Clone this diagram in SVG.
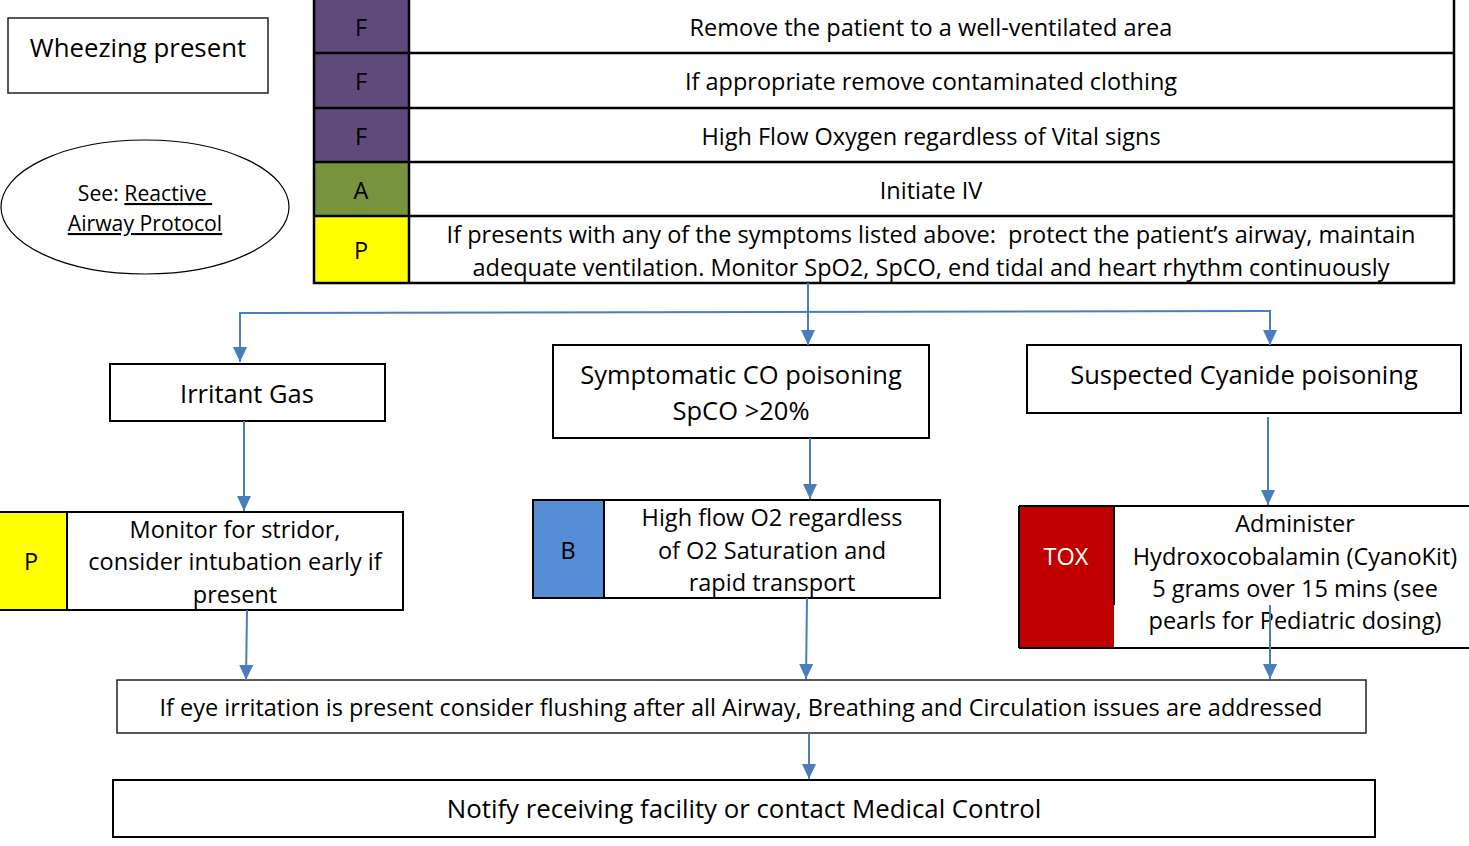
<svg xmlns="http://www.w3.org/2000/svg" width="1469" height="846" viewBox="0 0 1469 846">
<style>
text{font-family:"Open Sans","Noto Sans","Liberation Sans",sans-serif;fill:#000;text-anchor:middle;white-space:pre}
.box{fill:#fff;stroke:#000;stroke-width:2}
.thin{fill:#fff;stroke:#222;stroke-width:1.5}
.tb{stroke:#000;stroke-width:2.5;fill:none}
.t22{font-size:23.5px}
.t24{font-size:25.5px}
.t20{font-size:21.2px}
.t26{font-size:25.8px}
.con{stroke:#4A7EBB;stroke-width:2;fill:none;marker-end:url(#ah)}
.wt{fill:#fff}
</style>
<defs>
<marker id="ah" markerWidth="15" markerHeight="14" refX="15" refY="7" orient="auto" markerUnits="userSpaceOnUse" viewBox="0 0 15 14">
<path d="M0,0 L15,7 L0,14 Z" fill="#4A7EBB"/>
</marker>
</defs>
<rect width="1469" height="846" fill="#fff"/>

<g id="wheezing">
<rect class="thin" x="8" y="18" width="260" height="75"/>
<text class="t26" x="138" y="57">Wheezing present</text>
</g>

<g id="reactive">
<ellipse cx="145" cy="207" rx="144" ry="67" fill="#fff" stroke="#000" stroke-width="1.2"/>
<text class="t20" x="145" y="201">See: <tspan text-decoration="underline">Reactive </tspan></text>
<text class="t20" x="145" y="231" text-decoration="underline">Airway Protocol</text>
</g>

<g id="table">
<rect x="314" y="-2" width="95" height="163" fill="#604A7B"/>
<rect x="314" y="162" width="95" height="54" fill="#77933C"/>
<rect x="314" y="216" width="95" height="67" fill="#FFFF00"/>
<rect class="tb" x="314" y="-2" width="1140" height="285"/>
<line class="tb" x1="409" y1="-2" x2="409" y2="283"/>
<line class="tb" x1="314" y1="53" x2="1454" y2="53"/>
<line class="tb" x1="314" y1="108" x2="1454" y2="108"/>
<line class="tb" x1="314" y1="162" x2="1454" y2="162"/>
<line class="tb" x1="314" y1="216" x2="1454" y2="216"/>
<text class="t22" x="361" y="36">F</text>
<text class="t22" x="361" y="90">F</text>
<text class="t22" x="361" y="145">F</text>
<text class="t22" x="361" y="199">A</text>
<text class="t22" x="361" y="259">P</text>
<text class="t22" x="931" y="36">Remove the patient to a well-ventilated area</text>
<text class="t22" x="931" y="90">If appropriate remove contaminated clothing</text>
<text class="t22" x="931" y="145">High Flow Oxygen regardless of Vital signs</text>
<text class="t22" x="931" y="199">Initiate IV</text>
<text class="t22" x="931" y="243" xml:space="preserve">If presents with any of the symptoms listed above:  protect the patient’s airway, maintain</text>
<text class="t22" x="931" y="276">adequate ventilation. Monitor SpO2, SpCO, end tidal and heart rhythm continuously</text>
</g>

<g id="irritant">
<rect class="box" x="110" y="364" width="275" height="57"/>
<text class="t24" x="247" y="403">Irritant Gas</text>
</g>

<g id="co">
<rect class="box" x="553" y="345" width="376" height="93"/>
<text class="t24" x="741" y="384">Symptomatic CO poisoning</text>
<text class="t24" x="741" y="420">SpCO &gt;20%</text>
</g>

<g id="cyanide">
<rect class="box" x="1027" y="345" width="434" height="68"/>
<text class="t24" x="1244" y="384">Suspected Cyanide poisoning</text>
</g>

<g id="stridor">
<rect x="0" y="512" width="67" height="98" fill="#FFFF00"/>
<rect x="-2" y="512" width="405" height="98" fill="none" stroke="#000" stroke-width="2"/>
<line x1="67" y1="512" x2="67" y2="610" stroke="#000" stroke-width="2"/>
<text class="t22" x="31" y="570">P</text>
<text class="t22" x="235" y="538">Monitor for stridor,</text>
<text class="t22" x="235" y="570">consider intubation early if</text>
<text class="t22" x="235" y="603">present</text>
</g>

<g id="oxygen">
<rect x="533" y="500" width="71" height="98" fill="#558ED5"/>
<rect x="533" y="500" width="407" height="98" fill="none" stroke="#000" stroke-width="2"/>
<line x1="604" y1="500" x2="604" y2="598" stroke="#000" stroke-width="2"/>
<text class="t22" x="568" y="559">B</text>
<text class="t22" x="772" y="526">High flow O2 regardless</text>
<text class="t22" x="772" y="559">of O2 Saturation and</text>
<text class="t22" x="772" y="591">rapid transport</text>
</g>

<g id="tox">
<rect x="1019" y="507" width="95" height="141" fill="#C00000"/>
<line x1="1019" y1="506" x2="1469" y2="506" stroke="#000" stroke-width="2"/>
<line x1="1019" y1="648" x2="1469" y2="648" stroke="#000" stroke-width="2"/>
<line x1="1019" y1="506" x2="1019" y2="648" stroke="#000" stroke-width="2"/>
<line x1="1114" y1="506" x2="1114" y2="605" stroke="#000" stroke-width="2"/>
<text class="t22 wt" x="1066" y="565">TOX</text>
<text class="t22" x="1295" y="532">Administer</text>
<text class="t22" x="1295" y="565">Hydroxocobalamin (CyanoKit)</text>
<text class="t22" x="1295" y="597">5 grams over 15 mins (see</text>
<text class="t22" x="1295" y="629">pearls for Pediatric dosing)</text>
</g>

<g id="eye">
<rect class="thin" x="117" y="680" width="1249" height="53"/>
<text class="t22" x="741" y="716">If eye irritation is present consider flushing after all Airway, Breathing and Circulation issues are addressed</text>
</g>

<g id="notify">
<rect class="box" x="113" y="780" width="1262" height="57"/>
<text class="t26" x="744" y="818">Notify receiving facility or contact Medical Control</text>
</g>

<g id="connectors">
<polyline points="240,313 1270,311" fill="none" stroke="#4A7EBB" stroke-width="2"/>
<line class="con" x1="808" y1="283" x2="808" y2="345"/>
<line class="con" x1="240" y1="312" x2="240" y2="362"/>
<line class="con" x1="1270" y1="310" x2="1270" y2="345"/>
<line class="con" x1="244" y1="421" x2="244" y2="511"/>
<line class="con" x1="810" y1="438" x2="810" y2="499"/>
<line class="con" x1="1268" y1="417" x2="1268" y2="505"/>
<line class="con" x1="247" y1="610" x2="246" y2="680"/>
<line class="con" x1="807" y1="598" x2="806" y2="679"/>
<line class="con" x1="1270" y1="605" x2="1270" y2="679"/>
<line class="con" x1="809" y1="733" x2="809" y2="779"/>
</g>
</svg>
